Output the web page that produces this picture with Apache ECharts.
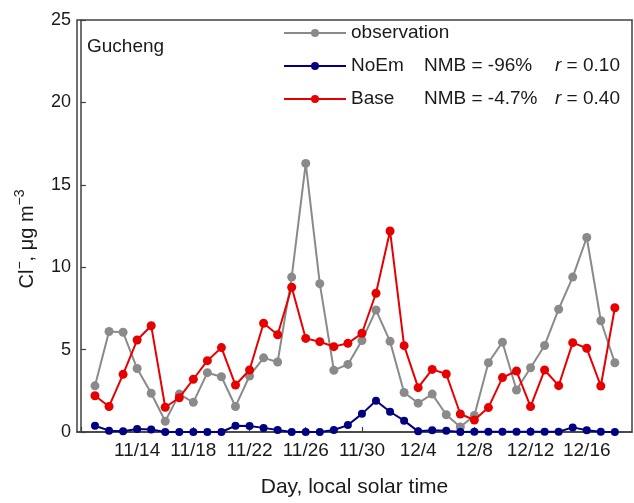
<!DOCTYPE html>
<html>
<head>
<meta charset="utf-8">
<script src="https://cdn.jsdelivr.net/npm/echarts@6/dist/echarts.min.js"></script>
<style>html,body{margin:0;padding:0;background:#fff}#c{width:634px;height:503px}</style>
</head>
<body>
<div id="c"></div>
<script>
// Days 11/11 .. 12/18 (local solar time)
const dates = ["11/11","11/12","11/13","11/14","11/15","11/16","11/17","11/18","11/19","11/20",
  "11/21","11/22","11/23","11/24","11/25","11/26","11/27","11/28","11/29","11/30",
  "12/1","12/2","12/3","12/4","12/5","12/6","12/7","12/8","12/9","12/10",
  "12/11","12/12","12/13","12/14","12/15","12/16","12/17","12/18"];
const tickLabels = ["11/14","11/18","11/22","11/26","11/30","12/4","12/8","12/12","12/16"];
const observation = [2.8,6.1,6.05,3.85,2.35,0.65,2.3,1.8,3.6,3.35,
  1.55,3.4,4.5,4.25,9.4,16.3,9.0,3.75,4.1,5.55,
  7.4,5.5,2.4,1.75,2.3,1.05,0.3,1.0,4.2,5.45,
  2.55,3.9,5.25,7.45,9.4,11.8,6.75,4.2];
const noEm = [0.38,0.08,0.05,0.18,0.15,0.0,0.0,0.0,0.0,0.0,
  0.38,0.36,0.25,0.12,0.0,0.0,0.0,0.12,0.42,1.1,
  1.9,1.23,0.69,0.04,0.1,0.08,0.0,0.02,0.02,0.02,
  0.02,0.02,0.02,0.02,0.28,0.1,0.02,0.0];
const base = [2.2,1.55,3.5,5.58,6.45,1.5,2.08,3.2,4.33,5.12,
  2.85,3.76,6.6,5.9,8.78,5.68,5.48,5.18,5.38,5.99,
  8.42,12.2,5.24,2.69,3.8,3.52,1.09,0.73,1.48,3.3,
  3.7,1.54,3.76,2.81,5.42,5.08,2.79,7.54];
const yTicks = [0,5,10,15,20,25];

// x value = days since 11/10
const xOf = i => i + 1;
const tickPos = tickLabels.map(t => xOf(dates.indexOf(t)));
const allTicks = [0].concat(tickPos);
const pts = arr => arr.map((v, i) => [xOf(i), v]);

const FONT = "'Liberation Sans', Arial, sans-serif";
const TXT = '#1a1a1a';
const AX = '#404040';

const chart = echarts.init(document.getElementById('c'), null, {renderer: 'canvas'});
chart.setOption({
  animation: false,
  textStyle: {fontFamily: FONT, color: TXT},
  grid: {left: 77, right: 2, top: 20, bottom: 71, show: true, borderColor: AX, borderWidth: 1.5, backgroundColor: 'transparent'},
  title: {text: 'Gucheng', left: 82, top: 32, textStyle: {fontFamily: FONT, fontSize: 19, fontWeight: 'normal', color: TXT}},
  legend: {
    orient: 'vertical', left: 283, top: 22, padding: 0, itemWidth: 62, itemHeight: 10, itemGap: 11,
    data: ['observation', 'NoEm', 'Base'],
    textStyle: {fontFamily: FONT, fontSize: 19, color: TXT, lineHeight: 22,
      rich: {
        n: {fontFamily: FONT, fontSize: 19, color: TXT, width: 73},
        m: {fontFamily: FONT, fontSize: 19, color: TXT, width: 131},
        r: {fontFamily: FONT, fontSize: 19, color: TXT, fontStyle: 'italic'},
        v: {fontFamily: FONT, fontSize: 19, color: TXT}
      }},
    formatter: function (name) {
      if (name === 'NoEm') return '{n|NoEm}{m|NMB = -96%}{r|r}{v| = 0.10}';
      if (name === 'Base') return '{n|Base}{m|NMB = -4.7%}{r|r}{v| = 0.40}';
      return name;
    }
  },
  xAxis: {
    type: 'value', min: -0.28, max: 39.22,
    name: 'Day, local solar time', nameLocation: 'middle', nameGap: 45,
    nameTextStyle: {fontFamily: FONT, fontSize: 21, color: TXT},
    axisLine: {show: true, lineStyle: {color: AX, width: 1.5}},
    axisTick: {show: true, inside: true, length: 5, customValues: allTicks, lineStyle: {color: AX, width: 1.2}},
    axisLabel: {customValues: tickPos, fontFamily: FONT, fontSize: 19, color: TXT, margin: 9,
      formatter: v => dates[v - 1] || ''},
    splitLine: {show: false}
  },
  yAxis: {
    type: 'value', min: 0, max: 25, interval: 5,
    name: '{a|Cl}{s|\u2212}{a|, \u03bcg m}{s|\u22123}', nameLocation: 'middle', nameGap: 40,
    nameTextStyle: {fontFamily: FONT, fontSize: 20, color: TXT, padding: [0, 26, 0, 0],
      rich: {
        a: {fontFamily: FONT, fontSize: 20, color: TXT, lineHeight: 24, verticalAlign: 'bottom'},
        s: {fontFamily: FONT, fontSize: 14, color: TXT, lineHeight: 24, verticalAlign: 'top'}
      }},
    axisLine: {show: true, lineStyle: {color: AX, width: 1.5}},
    axisTick: {show: true, inside: true, length: 5, lineStyle: {color: AX, width: 1.2}},
    axisLabel: {fontFamily: FONT, fontSize: 18, color: TXT, margin: 6,
      formatter: v => yTicks.indexOf(v) >= 0 ? String(v) : ''},
    splitLine: {show: false}
  },
  series: [
    {name: 'observation', type: 'line', data: pts(observation), symbol: 'circle', symbolSize: 9,
     itemStyle: {color: '#8a8a8a'}, lineStyle: {color: '#8a8a8a', width: 2}, z: 2},
    {name: 'NoEm', type: 'line', data: pts(noEm), symbol: 'circle', symbolSize: 8,
     itemStyle: {color: '#000080'}, lineStyle: {color: '#000080', width: 2}, z: 3},
    {name: 'Base', type: 'line', data: pts(base), symbol: 'circle', symbolSize: 9,
     itemStyle: {color: '#e60000'}, lineStyle: {color: '#e60000', width: 2}, z: 4}
  ]
});
</script>
</body>
</html>
